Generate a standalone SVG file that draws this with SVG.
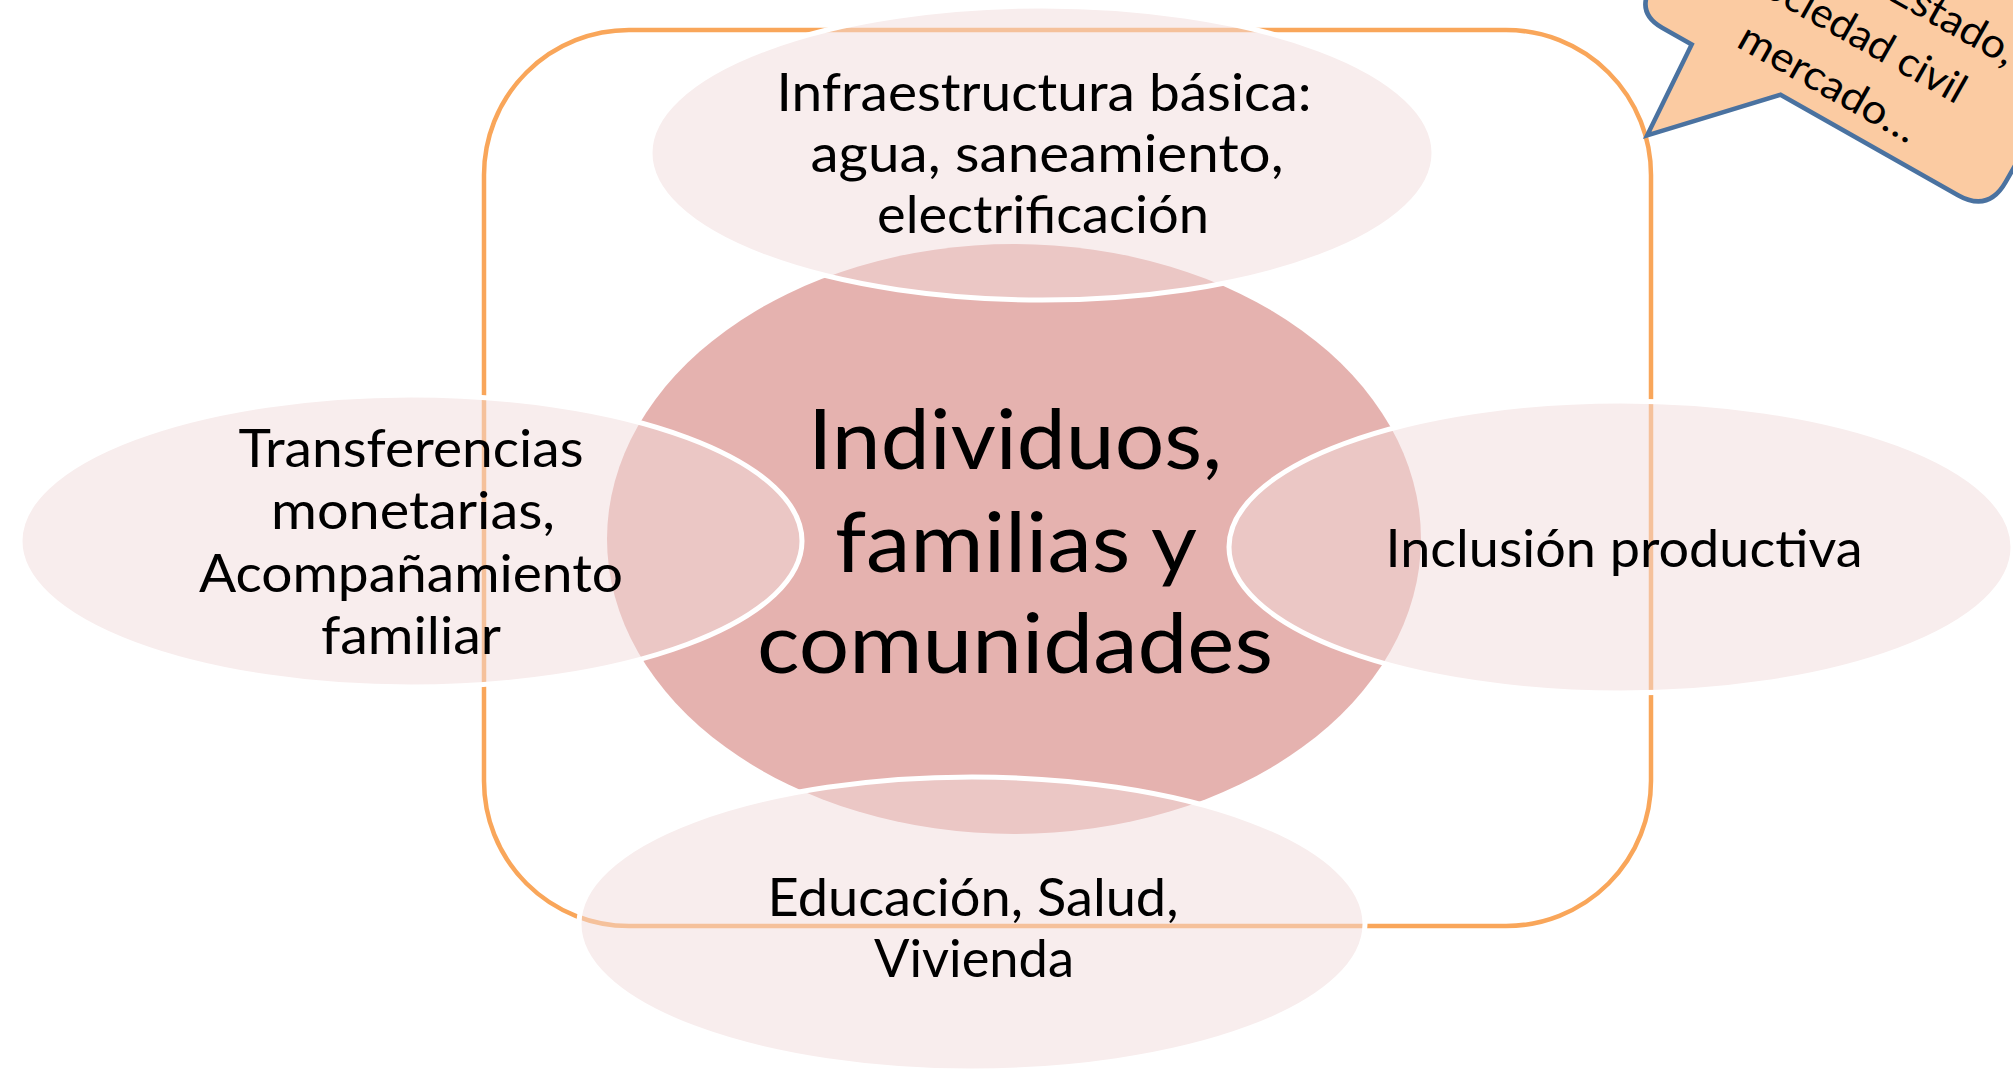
<svg xmlns="http://www.w3.org/2000/svg" width="2013" height="1071" viewBox="0 0 2013 1071">
<style>
.t{font-family:Lato,"Open Sans","DejaVu Sans",sans-serif;fill:#000;text-anchor:middle}
.r{font-size:52px}
.b{font-size:84px}
.c{font-size:41px}
.outer{fill:#F2DCDB;fill-opacity:0.5;stroke:#FFFFFF;stroke-width:5}
</style>
<rect width="2013" height="1071" fill="#FFFFFF"/>
<g id="frame">
<rect x="484" y="30" width="1167" height="896" rx="145" ry="145" fill="none" stroke="#F9A65A" stroke-width="4.5"/>
</g>
<g id="center">
<ellipse cx="1014" cy="539" rx="407" ry="295" fill="#E5B2AF"/>
<text class="t b"><tspan x="1015" y="469" textLength="414" lengthAdjust="spacingAndGlyphs">Individuos,</tspan><tspan x="1016" y="572" textLength="362" lengthAdjust="spacingAndGlyphs">familias y</tspan><tspan x="1015" y="673" textLength="516" lengthAdjust="spacingAndGlyphs">comunidades</tspan></text>
</g>
<g id="top">
<ellipse class="outer" cx="1042" cy="153" rx="392" ry="147"/>
<text class="t r"><tspan x="1044" y="111" textLength="535" lengthAdjust="spacingAndGlyphs">Infraestructura básica:</tspan><tspan x="1047" y="172" textLength="473" lengthAdjust="spacingAndGlyphs">agua, saneamiento,</tspan><tspan x="1043" y="233" textLength="332" lengthAdjust="spacingAndGlyphs">electrificación</tspan></text>
</g>
<g id="left">
<ellipse class="outer" cx="411" cy="541" rx="391" ry="146"/>
<text class="t r"><tspan x="411" y="467" textLength="345" lengthAdjust="spacingAndGlyphs">Transferencias</tspan><tspan x="413" y="529" textLength="284" lengthAdjust="spacingAndGlyphs">monetarias,</tspan><tspan x="411" y="592" textLength="424" lengthAdjust="spacingAndGlyphs">Acompañamiento</tspan><tspan x="411" y="654" textLength="180" lengthAdjust="spacingAndGlyphs">familiar</tspan></text>
</g>
<g id="right">
<ellipse class="outer" cx="1621" cy="547" rx="392" ry="146"/>
<text class="t r"><tspan x="1624" y="567" textLength="477" lengthAdjust="spacingAndGlyphs">Inclusión productiva</tspan></text>
</g>
<g id="bottom">
<ellipse class="outer" cx="972" cy="924" rx="393" ry="147"/>
<text class="t r"><tspan x="973" y="916" textLength="411" lengthAdjust="spacingAndGlyphs">Educación, Salud,</tspan><tspan x="974" y="977" textLength="200" lengthAdjust="spacingAndGlyphs">Vivienda</tspan></text>
</g>
<g id="connectors"/>
<g id="callout" transform="translate(1636,13) rotate(29.5)">
<path d="M30,0 L64,0 L70,101 L166,0 L370,0 Q405,0 405,-35 L405,-225 Q405,-260 370,-260 L35,-260 Q0,-260 0,-225 L0,-30 Q0,0 30,0 Z" fill="#FBCBA2" stroke="#4A72A0" stroke-width="4.5" stroke-linejoin="miter"/>
<text class="t c"><tspan x="349" y="-136" text-anchor="end" textLength="138" lengthAdjust="spacingAndGlyphs">Estado,</tspan><tspan x="202" y="-78" textLength="244" lengthAdjust="spacingAndGlyphs">sociedad civil</tspan><tspan x="202" y="-20" textLength="199" lengthAdjust="spacingAndGlyphs">mercado…</tspan></text>
</g>
</svg>
